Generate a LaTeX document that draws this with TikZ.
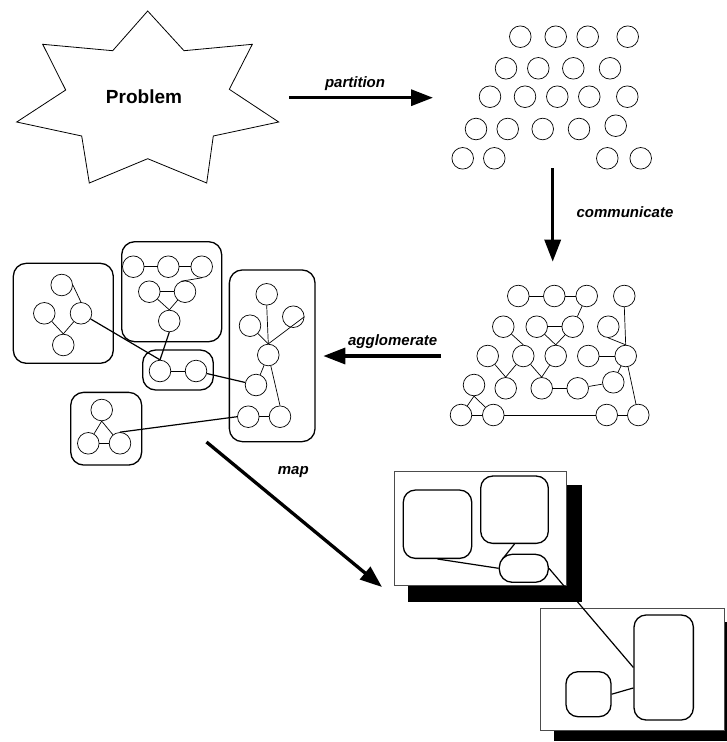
\documentclass[tikz,border=0pt]{standalone}
\usepackage{fontspec}
\setmainfont{Liberation Sans}
\usetikzlibrary{arrows.meta}
\begin{document}
\begin{tikzpicture}[x=1pt,y=-1pt,
  proc/.style={circle,draw,inner sep=0pt,minimum size=21.6pt,line width=0.7pt},
  link/.style={line width=0.7pt},
  xlink/.style={line width=1.2pt},
  cluster/.style={draw,rounded corners=13pt,line width=1.3pt,inner sep=0pt},
  region/.style={draw,fill=white,rounded corners=12pt,line width=1.3pt,inner sep=0pt},
  bigarrow/.style={line width=3.3pt,-{Triangle[length=22pt,width=16pt]}},
  lbl/.style={font=\fontsize{15}{18}\selectfont\bfseries\itshape},
  proctile/.style={draw=black!70,fill=white,line width=0.8pt},
  shadow/.style={fill=black}
]
\useasboundingbox (0,0) rectangle (727,742);

% ---------- the problem ----------
\draw[line width=0.8pt] (147.7,11) -- (184,50.7) -- (252.3,44.3) -- (229.3,89.3)
  -- (278.7,122) -- (213.3,136) -- (206.7,183) -- (147.7,158.7) -- (89.3,183)
  -- (81.7,136) -- (16.7,122) -- (65.7,90) -- (42.7,44.3) -- (112.7,50.7) -- cycle;
\node[font=\fontsize{19}{22}\selectfont\bfseries] (problem) at (144,97) {Problem};

% ---------- partition ----------
\coordinate (pa0) at (289,97.7);
\coordinate (pa1) at (433,97.7);
\draw[bigarrow] (pa0) -- (pa1);
\node[lbl] (partlbl) at (355,83.3) {partition};

\foreach \n/\x/\y in {g11/520.3/36.7, g12/555.7/36.7, g13/587.7/36.7, g14/627.7/36.7,
  g21/506/68.3, g22/538.3/68.3, g23/573.3/68.3, g24/610/68.3,
  g31/490/96.7, g32/525/96.7, g33/557.3/96.7, g34/589.3/96.7, g35/627.3/96.7,
  g41/476/129, g42/507.7/129, g43/542.7/129, g44/579/129, g45/615.7/125.7,
  g51/462.7/158.3, g52/494.3/158.3, g53/607.3/158.3, g54/640.7/158.3}
  \node[proc] (\n) at (\x,\y) {};

% ---------- communicate ----------
\coordinate (co0) at (552.7,168.3);
\coordinate (co1) at (552.7,261.7);
\draw[bigarrow] (co0) -- (co1);
\node[lbl] (commlbl) at (625,211.7) {communicate};

\foreach \n/\x/\y in {c11/518.3/296, c12/554.3/296, c13/586.7/296, c14/624.3/296,
  c21/503.3/326.7, c22/536.7/326.7, c23/572.7/326.7, c24/608.3/326.7,
  c31/487.7/356, c32/523.3/356, c33/555.7/356, c34/588.3/356, c35/625.7/356,
  c41/474/385, c42/505.7/388.3, c43/541.7/388.3, c44/577.7/388.3, c45/613.3/382.3,
  c51/461/415, c52/493.3/415, c53/606.7/415, c54/638.3/415}
  \node[proc] (\n) at (\x,\y) {};

\draw[link] (c11) -- (c12);
\draw[link] (c12) -- (c13);
\draw[link] (c13) -- (c23);
\draw[link] (c22) -- (c23);
\draw[link] (c22) -- (c33.north);
\draw[link] (c23) -- (c33.north);
\draw[link] (c14.south) -- (c35.north);
\draw[link] (c24.south) -- (c35.north);
\draw[link] (c34) -- (c35);
\draw[link] (c21) -- (c32.north);
\draw[link] (c31) -- (c42.north);
\draw[link] (c32) -- (c42.north);
\draw[link] (c32) -- (c43.north);
\draw[link] (c33) -- (c43.north);
\draw[link] (c43) -- (c44);
\draw[link] (c44) -- (c45);
\draw[link] (c45) -- (c35);
\draw[link] (c35) -- (c54);
\draw[link] (c41.south) -- (c51);
\draw[link] (c41.south) -- (c52);
\draw[link] (c51) -- (c52);
\draw[link] (c52) -- (c53);
\draw[link] (c53) -- (c54);

% ---------- agglomerate ----------
\coordinate (ag0) at (441,356);
\coordinate (ag1) at (323.3,356);
\draw[bigarrow] (ag0) -- (ag1);
\node[lbl] (agglbl) at (392.7,341.7) {agglomerate};

\node[cluster,minimum width=100pt,minimum height=100pt] (boxA) at (63.3,313.3) {};
\node[cluster,minimum width=100pt,minimum height=100pt] (boxB) at (171.7,291.7) {};
\node[cluster,minimum width=70.6pt,minimum height=40pt] (boxC) at (178,370) {};
\node[cluster,minimum width=85.7pt,minimum height=171.7pt] (boxD) at (272.2,355.8) {};
\node[cluster,minimum width=71pt,minimum height=72.7pt] (boxE) at (106.2,428.7) {};

\foreach \n/\x/\y in {A1/61.7/285, A2/44.3/313.3, A3/81/313.3, A4/63.3/345,
  B1/133.3/266.7, B2/168.3/266.7, B3/201.7/266.7, B4/149.3/291.7, B5/185/291.7, B6/169.3/321,
  C1/160/371, C2/196/371,
  D1/266.7/294.3, D2/250/325.7, D3/293.3/316.7, D4/268.3/355, D5/256/385, D6/248.3/416.7, D7/280/416.7,
  E1/101.7/410, E2/88.3/443.3, E3/120/443.3}
  \node[proc] (\n) at (\x,\y) {};

\draw[link] (A1.east) -- (A3.north);
\draw[link] (A2) -- (A4.north);
\draw[link] (A3) -- (A4.north);
\draw[link] (B1) -- (B2);
\draw[link] (B2) -- (B3);
\draw[link] (B3.south) -- (B5.110);
\draw[link] (B4) -- (B5);
\draw[link] (B4) -- (B6.north);
\draw[link] (B5) -- (B6.north);
\draw[link] (C1) -- (C2);
\draw[link] (D1.south) -- (D4.north);
\draw[link] (D2) -- (D4.north);
\draw[link] (D4.north) -- (D3.east);
\draw[link] (D4) -- (D5);
\draw[link] (D4) -- (D7.north);
\draw[link] (D6) -- (D7);
\draw[link] (E1.south) -- (E2);
\draw[link] (E1.south) -- (E3);
\draw[link] (E2) -- (E3);
\draw[xlink] (A3) -- (C1.north);
\draw[xlink] (B6.south) -- (C1.north);
\draw[xlink] (C2) -- (D5);
\draw[xlink] (E3.north) -- (D6.west);

% ---------- map ----------
\coordinate (ma0) at (206.5,442);
\coordinate (ma1) at (382,587);
\draw[bigarrow] (ma0) -- (ma1);
\node[lbl] (maplbl) at (293.3,471.7) {map};

\fill[shadow] (408.3,485) rectangle (581.7,601.7);
\draw[proctile] (394,471) rectangle (566.7,585.7);
\node[region,minimum width=68.4pt,minimum height=68.3pt] (R1) at (437.5,524.2) {};
\node[region,minimum width=67.6pt,minimum height=67.3pt] (R2) at (514.5,509.7) {};
\node[region,rounded corners=13pt,minimum width=49pt,minimum height=28pt] (R3) at (523.8,568.3) {};

\fill[shadow] (554,621.7) rectangle (727,741);
\draw[proctile] (540,608.3) rectangle (724.3,730);
\node[region,minimum width=45pt,minimum height=45pt] (R4) at (588.5,694.2) {};
\node[region,minimum width=59.3pt,minimum height=105pt] (R5) at (663.7,667.5) {};

\draw[xlink] (R1.south) -- (R3.west);
\draw[xlink] (R2.south) -- ([shift={(4,-9.5)}]R3.west);
\draw[xlink] (R3.east) -- (R5.west);
\draw[xlink] (R4.east) -- (R5.214);

\end{tikzpicture}
\end{document}
